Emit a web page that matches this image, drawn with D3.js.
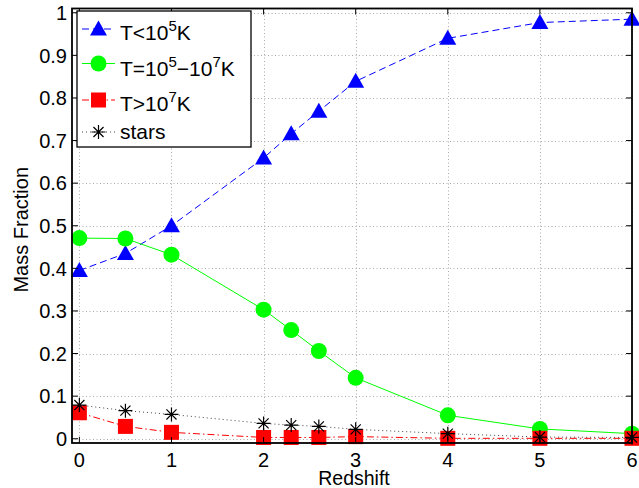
<!DOCTYPE html>
<html>
<head>
<meta charset="utf-8">
<script src="https://cdn.jsdelivr.net/npm/d3@7"></script>
<style>
  html, body { margin: 0; padding: 0; background: #fff; }
  svg { display: block; font-family: "Liberation Sans", Arial, Helvetica, sans-serif; }
</style>
</head>
<body>
<svg id="chart" width="639" height="488"></svg>
<script>
// Redshift samples shared by every component
const redshift = [0, 0.5, 1, 2, 2.3, 2.6, 3, 4, 5, 6];

// Mass fraction per temperature phase, and in stars
const coldGas = [0.395, 0.435, 0.5, 0.659, 0.716, 0.769, 0.839, 0.940, 0.977, 0.985];
const warmGas = [0.471, 0.470, 0.432, 0.303, 0.255, 0.206, 0.143, 0.055, 0.023, 0.012];
const hotGas  = [0.061, 0.029, 0.015, 0.003, 0.003, 0.003, 0.005, 0.001, 0.001, 0.001];
const stars   = [0.079, 0.066, 0.057, 0.036, 0.032, 0.029, 0.022, 0.012, 0.004, 0.003];

const xTicks = [0, 1, 2, 3, 4, 5, 6];
const yTicks = [0, 0.1, 0.2, 0.3, 0.4, 0.5, 0.6, 0.7, 0.8, 0.9, 1];

const svg = d3.select("#chart");
const plot = { left: 72, right: 632, top: 8.5, bottom: 443 };

const x = d3.scaleLinear().domain([-0.08, 6]).range([plot.left, plot.right]);
const y = d3.scaleLinear().domain([-0.01, 1.01]).range([plot.bottom, plot.top]);

// Dotted grid
const grid = svg.append("g").attr("stroke", "#aaa").attr("stroke-width", 1)
  .attr("stroke-dasharray", "1,2.5");
grid.selectAll(".gx").data(xTicks).join("line")
  .attr("x1", d => Math.round(x(d)) + 0.5).attr("x2", d => Math.round(x(d)) + 0.5)
  .attr("y1", plot.top).attr("y2", plot.bottom);
grid.selectAll(".gy").data(yTicks).join("line")
  .attr("y1", d => Math.round(y(d)) + 0.5).attr("y2", d => Math.round(y(d)) + 0.5)
  .attr("x1", plot.left).attr("x2", plot.right);

// Series definitions
const series = [
  { name: "cold", values: coldGas, color: "#0000ff", dash: "7,4", marker: "triangle" },
  { name: "warm", values: warmGas, color: "#00ff00", dash: null, marker: "circle" },
  { name: "hot", values: hotGas, color: "#ff0000", dash: "7,3,1.5,3", marker: "square" },
  { name: "stars", values: stars, color: "#000", dash: "1,3", marker: "star", lineColor: "#444" }
];

function drawMarker(g, type, color, cx, cy) {
  if (type === "triangle") {
    g.append("path").attr("d", `M${cx},${cy - 8.5}L${cx + 8.5},${cy + 6.5}L${cx - 8.5},${cy + 6.5}Z`)
      .attr("fill", color);
  } else if (type === "circle") {
    g.append("circle").attr("cx", cx).attr("cy", cy).attr("r", 8).attr("fill", color);
  } else if (type === "square") {
    g.append("rect").attr("x", cx - 7.5).attr("y", cy - 7.5).attr("width", 15).attr("height", 15)
      .attr("fill", color);
  } else if (type === "star") {
    const r = 7, d = r * 0.72;
    const p = `M${cx - r},${cy}L${cx + r},${cy}M${cx},${cy - r}L${cx},${cy + r}` +
      `M${cx - d},${cy - d}L${cx + d},${cy + d}M${cx - d},${cy + d}L${cx + d},${cy - d}`;
    g.append("path").attr("d", p).attr("stroke", color).attr("stroke-width", 1.2).attr("fill", "none");
  }
}

const line = d3.line().x(d => x(d[0])).y(d => y(d[1]));

series.forEach(s => {
  const g = svg.append("g");
  const pts = redshift.map((r, i) => [r, s.values[i]]);
  g.append("path").datum(pts).attr("d", line)
    .attr("fill", "none").attr("stroke", s.lineColor || s.color).attr("stroke-width", 1)
    .attr("stroke-dasharray", s.dash);
  pts.forEach(p => drawMarker(g, s.marker, s.color, x(p[0]), y(p[1])));
});

// Axes box with inward ticks on all sides
const axisG = svg.append("g").attr("stroke", "#000").attr("stroke-width", 1.8).attr("fill", "none");
axisG.append("rect").attr("x", plot.left).attr("y", plot.top)
  .attr("width", plot.right - plot.left).attr("height", plot.bottom - plot.top);
const tickLen = 6;
xTicks.forEach(t => {
  const xx = x(t);
  axisG.append("line").attr("x1", xx).attr("x2", xx).attr("y1", plot.bottom).attr("y2", plot.bottom - tickLen).attr("stroke-width", 1);
  axisG.append("line").attr("x1", xx).attr("x2", xx).attr("y1", plot.top).attr("y2", plot.top + tickLen).attr("stroke-width", 1);
});
yTicks.forEach(t => {
  const yy = y(t);
  axisG.append("line").attr("x1", plot.left).attr("x2", plot.left + tickLen).attr("y1", yy).attr("y2", yy).attr("stroke-width", 1);
  axisG.append("line").attr("x1", plot.right).attr("x2", plot.right - tickLen).attr("y1", yy).attr("y2", yy).attr("stroke-width", 1);
});

// Tick labels
const fmt = d => d === 0 ? "0" : d === 1 ? "1" : d3.format(".1f")(d);
svg.append("g").selectAll("text").data(xTicks).join("text")
  .attr("x", d => x(d)).attr("y", 467).attr("text-anchor", "middle")
  .attr("font-size", 20).text(d => d);
svg.append("g").selectAll("text").data(yTicks).join("text")
  .attr("x", 67).attr("y", d => y(d)).attr("dy", "0.36em").attr("text-anchor", "end")
  .attr("font-size", 20).text(fmt);

// Axis titles
svg.append("text").attr("x", (plot.left + plot.right) / 2 + 2).attr("y", 485)
  .attr("text-anchor", "middle").attr("font-size", 19.5).text("Redshift");
svg.append("text").attr("transform", `translate(28,${(plot.top + plot.bottom) / 2 + 4}) rotate(-90)`)
  .attr("text-anchor", "middle").attr("font-size", 20).text("Mass Fraction");

// Legend
const legend = svg.append("g");
legend.append("rect").attr("x", 77).attr("y", 11).attr("width", 174).attr("height", 136)
  .attr("fill", "#fff").attr("stroke", "#000").attr("stroke-width", 1.3);
const legendRows = [
  { s: series[0], parts: [["T<10", 0], ["5", 1], ["K", 0]] },
  { s: series[1], parts: [["T=10", 0], ["5", 1], ["\u221210", 0], ["7", 1], ["K", 0]] },
  { s: series[2], parts: [["T>10", 0], ["7", 1], ["K", 0]] },
  { s: series[3], parts: [["stars", 0]] }
];
const rowY = [29, 63.5, 100, 132];
const rowBase = [39.5, 75.5, 111, 138.5];
legendRows.forEach((row, i) => {
  const cy = rowY[i];
  legend.append("line").attr("x1", 82).attr("x2", 115).attr("y1", cy).attr("y2", cy)
    .attr("stroke", row.s.lineColor || row.s.color).attr("stroke-width", 1)
    .attr("stroke-dasharray", row.s.dash);
  drawMarker(legend, row.s.marker, row.s.color, 98.5, cy);
  const t = legend.append("text").attr("x", 120).attr("y", rowBase[i]).attr("font-size", 21);
  let up = false;
  row.parts.forEach(([txt, sup]) => {
    const ts = t.append("tspan").text(txt);
    if (sup && !up) { ts.attr("dy", -9).attr("font-size", 15); up = true; }
    else if (!sup && up) { ts.attr("dy", 9); up = false; }
  });
});
</script>
</body>
</html>
